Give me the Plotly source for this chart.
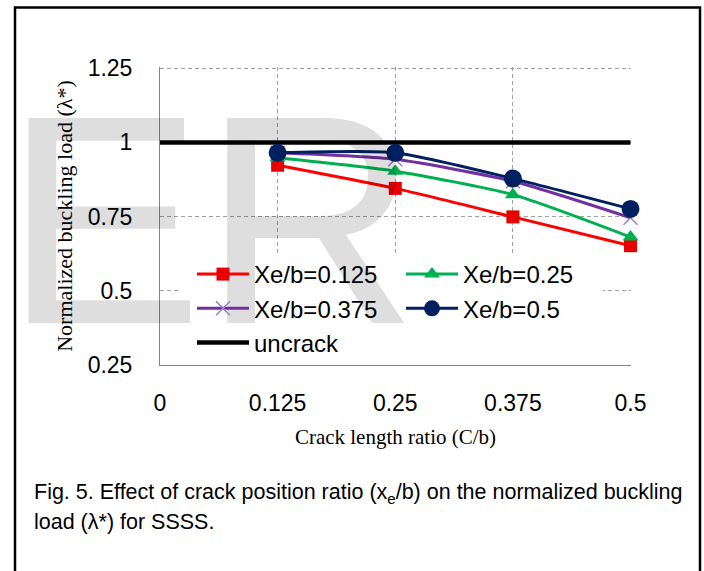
import base64
import plotly.graph_objects as go

# ---- data ----
crack_ratio = [0.125, 0.25, 0.375, 0.5]
xe_0125 = [0.923, 0.845, 0.749, 0.652]
xe_025 = [0.948, 0.903, 0.824, 0.681]
xe_0375 = [0.965, 0.943, 0.869, 0.746]
xe_05 = [0.965, 0.965, 0.878, 0.776]
uncrack_x = [0, 0.125, 0.25, 0.375, 0.5]
uncrack_y = [1, 1, 1, 1, 1]
x_ticks = [0, 0.125, 0.25, 0.375, 0.5]
x_ticktext = ["0", "0.125", "0.25", "0.375", "0.5"]
y_ticks = [0.25, 0.5, 0.75, 1, 1.25]
y_ticktext = ["0.25", "0.5", "0.75", "1", "1.25"]

W, H = 704, 571
L, R, T, B = 160, 73, 67, 206
PW, PH = W - L - R, H - T - B


def px_x(px):
    return (px - L) / PW


def px_y(py):
    return (H - B - py) / PH


fig = go.Figure()

fig.add_trace(go.Scatter(
    x=uncrack_x, y=uncrack_y, name="uncrack", mode="lines",
    line=dict(color="#000000", width=4.5), legendrank=2000, cliponaxis=False))

fig.add_trace(go.Scatter(
    x=crack_ratio, y=xe_0125, name="Xe/b=0.125", mode="lines+markers",
    line=dict(color="#ff0000", width=3, shape="spline", smoothing=0.6),
    marker=dict(symbol="square", size=13, color="#e80000"), cliponaxis=False))
fig.add_trace(go.Scatter(
    x=crack_ratio, y=xe_025, name="Xe/b=0.25", mode="lines+markers",
    line=dict(color="#00b050", width=3, shape="spline", smoothing=0.6),
    marker=dict(symbol="triangle-up", size=14, color="#00b050"), cliponaxis=False))
fig.add_trace(go.Scatter(
    x=crack_ratio, y=xe_0375, name="Xe/b=0.375", mode="lines+markers",
    line=dict(color="#7030a0", width=3, shape="spline", smoothing=0.6),
    marker=dict(symbol="x-thin", size=14, color="#9d7ccc",
                line=dict(color="#9d7ccc", width=1.5)), cliponaxis=False))
fig.add_trace(go.Scatter(
    x=crack_ratio, y=xe_05, name="Xe/b=0.5", mode="lines+markers",
    line=dict(color="#002060", width=3, shape="spline", smoothing=0.6),
    marker=dict(symbol="circle", size=18, color="#002060"), cliponaxis=False))

grid_color = "#a0a0a0"
fig.update_xaxes(
    range=[0, 0.5005], tickvals=x_ticks, ticktext=x_ticktext,
    showgrid=True, gridcolor=grid_color, griddash="4px,3px", gridwidth=1,
    showline=True, linecolor="#868686", linewidth=1, zeroline=False,
    ticks="", ticklabelstandoff=17,
    tickfont=dict(family="Liberation Sans, Arial", size=23, color="#000000"),
    title=dict(text="Crack length ratio (C/b)", standoff=14,
               font=dict(family="Liberation Serif, Times New Roman", size=21, color="#000000")),
)
fig.update_yaxes(
    range=[0.25, 1.254], tickvals=y_ticks, ticktext=y_ticktext,
    showgrid=True, gridcolor=grid_color, griddash="4px,3px", gridwidth=1,
    showline=True, linecolor="#868686", linewidth=1, zeroline=False,
    ticks="", ticklabelstandoff=22,
    tickfont=dict(family="Liberation Sans, Arial", size=23, color="#000000"),
    title=dict(text="Normalized buckling load (λ*)", standoff=8,
               font=dict(family="Liberation Serif, Times New Roman", size=22, color="#000000")),
)

# white panel behind the legend (hides gridlines there)
fig.add_shape(type="rect", xref="x", yref="y", x0=0.021, x1=0.4705, y0=0.25, y1=0.62,
              fillcolor="#ffffff", line=dict(width=0), layer="between")

# watermark + outer frame
svg = (
    f'<svg xmlns="http://www.w3.org/2000/svg" width="{W}" height="{H}" viewBox="0 0 {W} {H}">'
    '<text x="4" y="323" font-family="Liberation Sans, Arial, sans-serif" font-size="298" '
    'fill="#000000" fill-opacity="0.13">ER</text>'
    '<rect x="15" y="7.5" width="685" height="640" fill="none" stroke="#000000" stroke-width="2.5"/>'
    '</svg>'
)
src = "data:image/svg+xml;base64," + base64.b64encode(svg.encode("utf-8")).decode("ascii")
fig.add_layout_image(dict(
    source=src, xref="paper", yref="paper", x=px_x(0), y=px_y(0),
    sizex=W / PW, sizey=H / PH, xanchor="left", yanchor="top",
    sizing="stretch", layer="above"))

caption_font = dict(family="Liberation Sans, Arial", size=21.5, color="#000000")
fig.add_annotation(
    text="Fig. 5. Effect of crack position ratio (x<sub>e</sub>/b) on the normalized buckling",
    xref="paper", yref="paper", x=px_x(32), y=px_y(493), xanchor="left", yanchor="middle",
    showarrow=False, font=caption_font, align="left")
fig.add_annotation(
    text="load (λ*) for SSSS.",
    xref="paper", yref="paper", x=px_x(32), y=px_y(522), xanchor="left", yanchor="middle",
    showarrow=False, font=caption_font, align="left")

fig.update_layout(
    width=W, height=H,
    margin=dict(l=L, r=R, t=T, b=B, autoexpand=False),
    paper_bgcolor="#ffffff", plot_bgcolor="rgba(0,0,0,0)",
    showlegend=True,
    legend=dict(
        orientation="h", x=px_x(192), y=px_y(252), xanchor="left", yanchor="top",
        bgcolor="rgba(0,0,0,0)", borderwidth=0,
        entrywidth=142, entrywidthmode="pixels", itemwidth=52,
        font=dict(family="Liberation Sans, Arial", size=24, color="#000000"),
        traceorder="normal",
    ),
)

fig.write_html("out.html", config={"displayModeBar": False},
               post_script="document.body.style.margin='0';")
